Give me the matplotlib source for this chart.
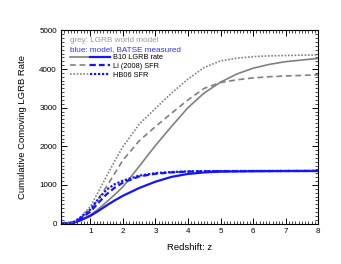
import matplotlib
matplotlib.use("Agg")
import matplotlib.pyplot as plt
from matplotlib.ticker import MultipleLocator
from matplotlib.legend_handler import HandlerTuple
from matplotlib.lines import Line2D

plt.rcParams['font.family'] = ['Liberation Sans', 'DejaVu Sans']

z_world = [0.1, 0.3, 0.5, 0.7, 1.0, 1.25, 1.5, 1.75, 2.0, 2.5, 3.0, 3.5, 4.0, 4.5, 5.0, 5.5, 6.0, 6.5, 7.0, 8.0]
b10_world = [0, 3, 25, 90, 220, 380, 560, 750, 950, 1480, 2020, 2520, 3000, 3380, 3660, 3870, 4020, 4120, 4190, 4275]
li_world = [0, 4, 40, 140, 350, 650, 960, 1300, 1640, 2140, 2510, 2860, 3200, 3500, 3650, 3720, 3770, 3800, 3820, 3850]
hb_world = [0, 5, 45, 170, 440, 830, 1230, 1620, 1990, 2570, 2980, 3380, 3740, 4040, 4210, 4280, 4320, 4340, 4350, 4365]

z_batse = [0.1, 0.3, 0.5, 0.7, 1.0, 1.25, 1.5, 1.75, 2.0, 2.5, 3.0, 3.5, 4.0, 4.5, 5.0, 6.0, 7.0, 8.0]
b10_batse = [0, 3, 25, 85, 200, 330, 470, 600, 720, 920, 1085, 1210, 1285, 1325, 1345, 1355, 1360, 1362]
li_batse = [0, 4, 40, 130, 310, 540, 760, 930, 1060, 1220, 1290, 1325, 1345, 1352, 1356, 1360, 1361, 1362]
hb_batse = [0, 5, 45, 160, 370, 640, 880, 1020, 1110, 1240, 1305, 1335, 1350, 1357, 1360, 1362, 1363, 1365]

labels = ["B10 LGRB rate", "Li (2008) SFR", "HB06 SFR"]
x_ticks = [1, 2, 3, 4, 5, 6, 7, 8]
y_ticks = [0, 1000, 2000, 3000, 4000, 5000]

grey = "#808080"
blue = "#1414ff"
lw_g = 1.2
lw_b = 1.6

fig = plt.figure(figsize=(3.41, 2.64), dpi=100)
ax = fig.add_axes([0.179, 0.153, 0.754, 0.732])

g_styles = ['-', (0, (3.5, 2.2)), (0, (1, 1))]
b_styles = ['-', (0, (2.6, 1.4)), (0, (1, 0.8))]
worlds = [b10_world, li_world, hb_world]
batses = [b10_batse, li_batse, hb_batse]
handles = []
for w, b, gs, bs in zip(worlds, batses, g_styles, b_styles):
    ax.plot(z_world, w, color=grey, lw=lw_g, ls=gs)
    ax.plot(z_batse, b, color=blue, lw=lw_b, ls=bs)
    handles.append((Line2D([], [], color=grey, lw=lw_g, ls=gs),
                    Line2D([], [], color=blue, lw=lw_b, ls=bs)))

ax.set_xlim(0.1, 8)
ax.set_ylim(0, 5000)
ax.set_xticks(x_ticks)
ax.set_yticks(y_ticks)
ax.xaxis.set_minor_locator(MultipleLocator(0.1))
ax.yaxis.set_minor_locator(MultipleLocator(100))
ax.tick_params(which='both', direction='in', top=True, right=True, labelsize=5.8, pad=3)
ax.tick_params(which='major', length=4, width=0.7)
ax.tick_params(which='minor', length=2, width=0.5)
for s in ax.spines.values():
    s.set_linewidth(0.8)
ax.set_xlabel("Redshift: z", fontsize=6.8, labelpad=6)
ax.set_ylabel("Cumulative Comoving LGRB Rate", fontsize=6.8, labelpad=9)

ax.text(0.035, 0.945, "grey: LGRB world model", transform=ax.transAxes, color="#9a9a9a", fontsize=5.9, va='center')
ax.text(0.035, 0.901, "blue: model, BATSE measured", transform=ax.transAxes, color="#3030ff", fontsize=5.9, va='center')
ax.legend(handles, labels, handler_map={tuple: HandlerTuple(ndivide=None, pad=0)},
          loc='upper left', bbox_to_anchor=(0.035, 0.878), frameon=False, fontsize=5.3,
          handlelength=5.4, handletextpad=0.4, labelspacing=0.22, borderpad=0, borderaxespad=0)

fig.savefig("out.png", dpi=100)
